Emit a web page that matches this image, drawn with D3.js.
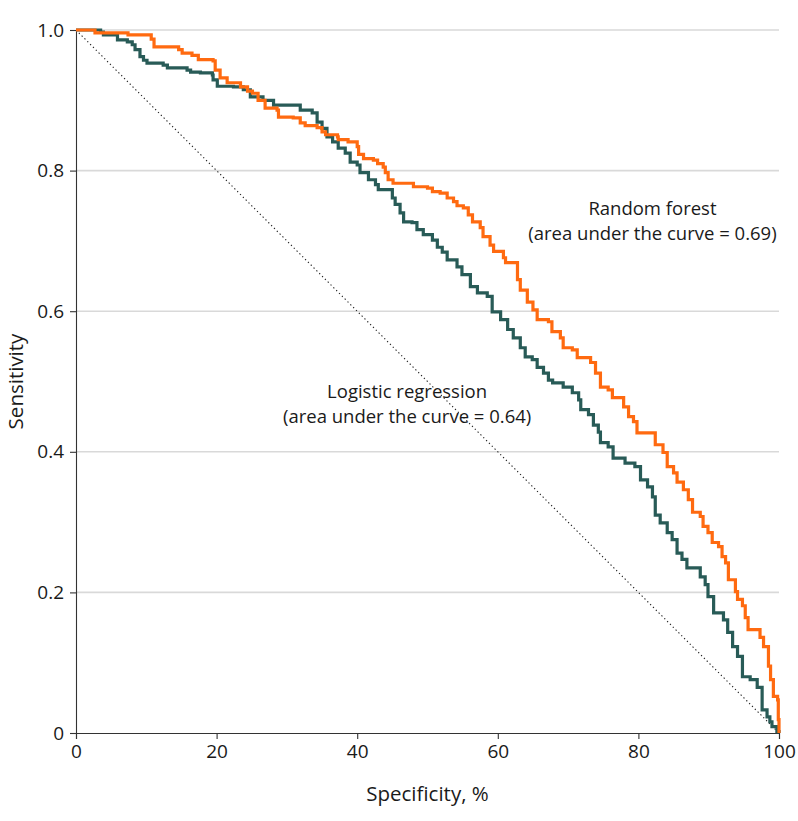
<!DOCTYPE html>
<html><head><meta charset="utf-8">
<script src="https://cdn.jsdelivr.net/npm/d3@7"></script>
<style>body{margin:0;background:#fff}text{font-family:"Open Sans","Noto Sans",sans-serif;fill:#1a1a1a}</style>
</head><body><svg id="c" width="798" height="821"></svg>
<script>
const xTicks=[0,20,40,60,80,100];
const yTicks=[0,0.2,0.4,0.6,0.8,1.0];
const yTickLabels=["0","0.2","0.4","0.6","0.8","1.0"];
const rfSpec=[0,2.7,7.4,10.7,11.1,14.6,15.1,16.5,17.4,19.5,19.8,20.5,21.5,23.4,24.4,25.1,25.9,26.9,28.6,28.8,30.9,31.9,32.6,34.3,35.0,35.5,37.2,37.3,38.7,40.0,40.2,40.9,42.3,42.9,43.7,44.0,44.4,45.1,47.3,48.0,50.0,50.7,51.8,52.8,53.7,54.2,55.1,55.8,56.4,57.5,57.9,58.9,59.4,60.8,61.1,62.8,63.2,64.2,65.0,65.6,67.2,67.7,68.9,69.3,70.6,71.3,73.2,73.9,74.6,75.7,76.3,77.9,78.6,79.3,79.8,82.1,82.4,83.5,84.1,85.0,85.5,86.4,87.1,87.7,88.8,89.2,89.9,90.5,91.4,91.9,92.4,92.8,93.8,94.1,94.8,95.2,95.6,97.3,97.8,98.5,98.8,99.2,99.8,99.9,100];
const rfSens=[1,0.996,0.993,0.987,0.976,0.972,0.967,0.964,0.958,0.956,0.943,0.932,0.925,0.919,0.913,0.910,0.900,0.889,0.886,0.876,0.875,0.868,0.864,0.861,0.855,0.851,0.848,0.844,0.841,0.834,0.823,0.817,0.815,0.810,0.805,0.797,0.787,0.782,0.782,0.777,0.775,0.770,0.768,0.761,0.756,0.750,0.747,0.737,0.727,0.719,0.706,0.694,0.685,0.676,0.669,0.645,0.630,0.613,0.602,0.588,0.585,0.571,0.562,0.548,0.545,0.534,0.527,0.512,0.492,0.488,0.477,0.464,0.450,0.443,0.427,0.427,0.410,0.399,0.379,0.370,0.357,0.346,0.332,0.314,0.308,0.294,0.285,0.271,0.265,0.251,0.242,0.218,0.201,0.190,0.181,0.164,0.147,0.136,0.123,0.095,0.076,0.052,0.047,0.019,0];
const lrSpec=[0,3.5,3.9,5.9,7.3,8.0,8.4,9.1,9.6,10.1,12.4,13.0,15.8,16.3,17.7,19.4,19.5,20.1,22.4,23.8,24.8,26.6,28.1,31.5,31.9,33.6,34.3,35.0,35.7,36.5,37.3,38.3,39.0,40.0,40.4,41.6,42.6,43.0,44.4,45.0,45.4,46.1,46.6,47.8,48.5,49.4,50.7,51.4,52.1,52.8,54.2,54.9,56.1,57.1,58.5,59.2,60.4,61.4,62.2,63.2,63.9,64.9,65.6,66.5,67.2,67.8,69.3,70.6,71.5,71.8,72.9,73.6,74.3,74.6,75.7,76.4,78.1,79.5,80.3,81.3,82.0,82.4,83.1,84.1,84.8,85.5,86.2,86.9,88.8,89.5,89.9,90.7,92.1,92.7,93.4,94.1,94.8,95.9,96.9,97.6,98.3,98.7,99.0,99.7,100];
const lrSens=[1,0.997,0.993,0.986,0.983,0.979,0.972,0.962,0.957,0.953,0.950,0.946,0.943,0.940,0.939,0.936,0.929,0.920,0.919,0.915,0.905,0.900,0.893,0.893,0.886,0.882,0.869,0.860,0.848,0.841,0.832,0.825,0.812,0.808,0.797,0.787,0.780,0.773,0.773,0.761,0.752,0.740,0.727,0.726,0.716,0.709,0.701,0.691,0.684,0.673,0.663,0.652,0.635,0.626,0.621,0.599,0.588,0.574,0.562,0.548,0.535,0.531,0.520,0.512,0.502,0.498,0.492,0.484,0.474,0.460,0.453,0.438,0.428,0.413,0.407,0.391,0.384,0.379,0.360,0.350,0.336,0.310,0.299,0.285,0.275,0.256,0.247,0.235,0.222,0.211,0.194,0.171,0.161,0.143,0.123,0.109,0.080,0.076,0.065,0.033,0.023,0.016,0.009,0.002,0];
const diagSpec=[0,100], diagSens=[1,0];
const labels=[
 {lines:["Random forest","(area under the curve = 0.69)"],spec:82,sens:0.737},
 {lines:["Logistic regression","(area under the curve = 0.64)"],spec:47.1,sens:0.477}
];

const FS=18.5, TS=20.5;
const svg=d3.select("#c");
const m={l:76,t:30,w:703,h:703};
const x=d3.scaleLinear().domain([0,100]).range([m.l,m.l+m.w]);
const y=d3.scaleLinear().domain([0,1]).range([m.t+m.h,m.t]);

svg.append("g").selectAll("line").data(yTicks.filter(d=>d>0)).join("line")
 .attr("x1",x(0)).attr("x2",x(100)).attr("y1",d=>y(d)).attr("y2",d=>y(d))
 .attr("stroke","#d9d9d9").attr("stroke-width",1.6);

const gx=svg.append("g").attr("transform",`translate(0,${y(0)})`)
 .call(d3.axisBottom(x).tickValues(xTicks).tickSize(6).tickPadding(6).tickFormat(d3.format("d")));
const gy=svg.append("g").attr("transform",`translate(${x(0)},0)`)
 .call(d3.axisLeft(y).tickValues(yTicks).tickSize(6).tickPadding(6).tickFormat((d,i)=>yTickLabels[i]));
[gx,gy].forEach(g=>{g.selectAll("path,line").attr("stroke","#333").attr("stroke-width",1.1);
 g.selectAll("text").attr("font-size",FS+0.5).attr("font-family","Open Sans").attr("fill","#1a1a1a");});

svg.append("path").datum(diagSpec.map((s,i)=>[s,diagSens[i]]))
 .attr("d",d3.line().x(d=>x(d[0])).y(d=>y(d[1])))
 .attr("stroke","#222").attr("stroke-width",1.1).attr("stroke-dasharray","1.3,2.7").attr("fill","none");

const line=d3.line().x(d=>x(d[0])).y(d=>y(d[1])).curve(d3.curveStepAfter);
svg.append("path").datum(lrSpec.map((s,i)=>[s,lrSens[i]])).attr("d",line)
 .attr("fill","none").attr("stroke","#285b57").attr("stroke-width",3.2);
svg.append("path").datum(rfSpec.map((s,i)=>[s,rfSens[i]])).attr("d",line)
 .attr("fill","none").attr("stroke","#ff6a10").attr("stroke-width",3.2);

labels.forEach(l=>{
 const t=svg.append("text").attr("text-anchor","middle").attr("font-size",FS);
 l.lines.forEach((s,i)=>t.append("tspan").attr("x",x(l.spec)).attr("y",y(l.sens)+i*25).text(s));
});

svg.append("text").attr("x",x(50)).attr("y",801).attr("text-anchor","middle").attr("font-size",TS).text("Specificity, %");
svg.append("text").attr("transform",`translate(23,${y(0.5)}) rotate(-90)`).attr("text-anchor","middle").attr("font-size",TS).text("Sensitivity");
</script></body></html>
